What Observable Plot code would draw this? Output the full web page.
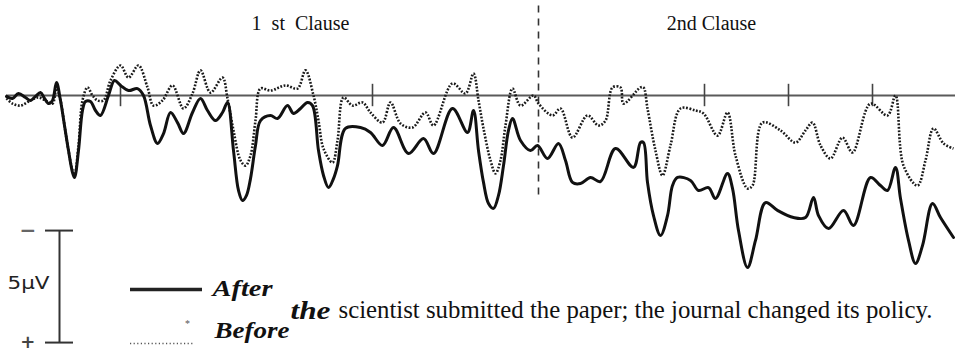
<!DOCTYPE html>
<html>
<head>
<meta charset="utf-8">
<script src="https://cdn.jsdelivr.net/npm/d3@7"></script>
<script src="https://cdn.jsdelivr.net/npm/@observablehq/plot@0.6"></script>
<style>
  html, body { margin: 0; padding: 0; background: #fff; }
  #chart svg { display: block; }
</style>
</head>
<body>
<div id="chart"></div>
<script>
// ---- Data (time in ms from sentence onset, amplitude in µV; negative plotted up) ----
const afterTimes = [0,30,60,95,120,145,170,190,210,230,250,270,290,310,330,340,360,380,395,420,445,470,510,540,570,610,655,685,720,755,785,820,855,885,930,970,1005,1045,1080,1105,1135,1160,1180,1200,1220,1245,1270,1320,1355,1405,1435,1470,1505,1530,1560,1585,1610,1635,1655,1695,1770,1820,1880,1935,2010,2085,2135,2230,2305,2335,2360,2385,2410,2435,2460,2485,2510,2530,2570,2620,2655,2705,2760,2795,2830,2870,2920,2970,3045,3135,3170,3185,3205,3235,3270,3305,3330,3355,3420,3460,3510,3545,3605,3630,3660,3705,3745,3795,3855,3935,3995,4035,4060,4110,4185,4235,4320,4370,4405,4445,4470,4510,4545,4580,4630,4670,4735];
const afterAmps  = [0.04,0.13,-0.09,0.09,0.22,0.04,-0.13,0.13,0.36,0.22,-0.58,0.22,1.34,2.46,3.44,3.66,2.46,0.67,0.27,0.27,0.67,0.89,0,-0.67,-0.45,-0.22,-0.31,0,1.34,2.14,1.70,0.76,1.21,1.70,0.76,0.13,0.67,1.12,0.76,0.31,2.46,4.24,4.69,4.46,3.71,2.23,1.12,0.89,1.03,0.45,0.80,0.58,0.31,0.45,2.46,3.57,4.11,3.71,3.13,1.47,1.43,1.65,2.23,1.43,2.59,1.92,2.59,0.58,1.65,0.67,2.46,3.88,4.82,5.04,4.46,3.13,1.56,1.03,2.01,2.46,2.23,2.81,2.14,2.90,3.88,3.93,3.66,3.84,2.37,3.21,2.10,2.10,3.88,5.36,6.25,5.36,4.02,3.66,3.79,4.24,4.11,4.60,3.48,4.15,6.03,7.68,6.47,4.78,5.13,5.45,5.45,4.55,5.36,5.94,5.13,5.80,3.66,4.02,4.24,3.21,4.60,6.47,7.50,6.70,4.82,5.45,6.34];

const beforeTimes = [0,30,70,120,160,195,230,250,270,290,310,330,340,360,380,405,430,455,485,520,570,610,660,705,735,780,830,885,930,970,1020,1080,1105,1135,1170,1195,1220,1245,1270,1320,1395,1455,1495,1535,1560,1585,1630,1655,1685,1730,1780,1820,1880,1920,1970,2030,2095,2135,2230,2295,2335,2360,2385,2420,2445,2470,2495,2530,2570,2635,2660,2730,2770,2830,2905,2960,2995,3030,3070,3085,3170,3185,3205,3245,3280,3320,3370,3445,3485,3555,3605,3645,3705,3730,3780,3870,3945,3995,4030,4070,4120,4180,4230,4320,4405,4445,4485,4555,4595,4635,4685,4735];
const beforeAmps  = [0.13,0.36,0.45,0.22,0.09,0.22,0.36,-0.31,0.22,1.34,2.46,3.35,3.53,2.23,0.22,-0.36,0,0.22,0.22,-0.67,-1.34,-0.80,-1.34,-0.36,0.45,0.22,-0.45,0.58,-0.09,-1.12,-0.13,-0.80,0.13,1.56,2.90,3.13,2.68,1.12,-0.31,-0.22,-0.45,-0.31,-1.12,0,1.12,2.37,2.99,2.01,0.09,0.45,0.31,0.76,1.21,0.31,1.25,1.43,0.76,1.34,-0.54,-0.09,-0.98,0.22,1.47,2.90,3.48,2.90,1.34,-0.31,0.45,0,0.36,0.89,0.58,1.88,0.89,1.34,1.12,-0.36,-0.36,0.36,-0.36,-0.36,0.58,2.46,3.57,2.23,0.58,0.67,0.80,1.79,0.76,2.68,4.15,4.02,1.21,1.56,2.10,1.56,1.21,2.23,2.81,1.88,2.54,0.36,0.89,0,3.13,4.02,2.90,1.47,2.14,2.37];

const wordOnsets = [570, 1830, 3490, 3910, 4330];
const clauseBoundary = 2660;
const clauseLabels = ["1 st Clause", "2nd Clause"];
const clauseLabelTimes = [1470, 3525];
const seriesNames = ["After", "Before"];
const sentenceLead = "the";
const sentenceRest = "scientist submitted the paper; the journal changed its policy.";
const scaleBarLabel = "5\u00b5V";
const scaleBarMicroVolts = 5;

// ---- Build tables ----
const after = afterTimes.map((t, i) => ({t, v: afterAmps[i]}));
const before = beforeTimes.map((t, i) => ({t, v: beforeAmps[i]}));

const pxPerUV = 22.4;
const yTop = -95 / pxPerUV, yBottom = 256 / pxPerUV;

// annotation anchor positions (in data units)
const barT = 265, barTop = 6.03, barBottom = barTop + scaleBarMicroVolts;
const serif = "'Liberation Serif', 'Times New Roman', serif";

const chart = Plot.plot({
  width: 963,
  height: 351,
  marginTop: 0, marginBottom: 0, marginLeft: 6, marginRight: 8,
  x: {domain: [0, 4745], axis: null},
  y: {domain: [yBottom, yTop], axis: null},
  style: {background: "#fff", overflow: "visible"},
  marks: [
    // baseline
    Plot.ruleY([0], {x1: 0, x2: 4745, stroke: "#5a5a5a", strokeWidth: 2}),
    // word onset ticks
    Plot.ruleX(wordOnsets, {y1: -0.5, y2: 0.5, stroke: "#444", strokeWidth: 1.6}),
    // clause boundary
    Plot.ruleX([clauseBoundary], {y1: -4.0, y2: 4.65, stroke: "#333", strokeWidth: 1.6, strokeDasharray: "7,6"}),
    // waveforms
    Plot.line(before, {x: "t", y: "v", curve: "catmull-rom", stroke: "#1a1a1a", strokeWidth: 2.6, strokeDasharray: "1.8,1.6", strokeLinecap: "butt"}),
    Plot.line(after, {x: "t", y: "v", curve: "catmull-rom", stroke: "#111", strokeWidth: 3}),
    // clause labels
    Plot.text(clauseLabels, {x: (d, i) => clauseLabelTimes[i], y: -3.21, text: d => d, fontFamily: serif, fontSize: 20, fill: "#111"}),
    // scale bar
    Plot.ruleX([barT], {y1: barTop, y2: barBottom, stroke: "#333", strokeWidth: 2}),
    Plot.ruleY([barTop, barBottom], {x1: 195, x2: 335, stroke: "#333", strokeWidth: 2}),
    Plot.text(["\u2212"], {x: 107, y: barTop, text: d => d, fontFamily: "DejaVu Sans", fontSize: 20, fontWeight: "bold", fill: "#666"}),
    Plot.text(["+"], {x: 107, y: barBottom, text: d => d, fontFamily: "DejaVu Sans", fontSize: 18, fontWeight: "bold", fill: "#444"}),
    Plot.text([scaleBarLabel], {x: 110, y: 8.39, text: d => d, fontFamily: "DejaVu Sans", fontSize: 18, fill: "#222"}),
    // legend
    Plot.ruleY([8.66], {x1: 620, x2: 980, stroke: "#222", strokeWidth: 3.5}),
    Plot.ruleY([11.07], {x1: 620, x2: 935, stroke: "#555", strokeWidth: 1.5, strokeDasharray: "1.2,2.4"}),
    Plot.text(["*"], {x: 905, y: 10.2, text: d => d, fontFamily: serif, fontSize: 10, fill: "#555"}),
    Plot.text([seriesNames[0]], {x: 1030, y: 8.63, text: d => d, textAnchor: "start", fontFamily: serif, fontSize: 24, fontWeight: "bold", fontStyle: "italic", fill: "#111"}),
    Plot.text([seriesNames[1]], {x: 1040, y: 10.5, text: d => d, textAnchor: "start", fontFamily: serif, fontSize: 24, fontWeight: "bold", fontStyle: "italic", fill: "#111"}),
    // sentence
    Plot.text([sentenceLead], {x: 1420, y: 9.6, text: d => d, textAnchor: "start", fontFamily: serif, fontSize: 25, fontWeight: "bold", fontStyle: "italic", fill: "#111"}),
    Plot.text([sentenceRest], {x: 1660, y: 9.58, text: d => d, textAnchor: "start", fontFamily: serif, fontSize: 26, fill: "#111"})
  ]
});

// fit widths of annotation texts to the reference's typesetting
const fitWidths = new Map([
  [sentenceRest, [594, "spacingAndGlyphs"]],
  [sentenceLead, [40, "spacingAndGlyphs"]],
  [seriesNames[0], [60, "spacingAndGlyphs"]],
  [seriesNames[1], [75, "spacingAndGlyphs"]],
  [scaleBarLabel, [42, "spacingAndGlyphs"]]
]);
d3.select(chart).selectAll("text").each(function() {
  const s = this.textContent;
  if (fitWidths.has(s)) {
    const [w, adj] = fitWidths.get(s);
    this.setAttribute("textLength", w);
    this.setAttribute("lengthAdjust", adj);
  }
  if (s === clauseLabels[0]) this.style.wordSpacing = "5px";
});

document.getElementById("chart").appendChild(chart);
</script>
</body>
</html>
